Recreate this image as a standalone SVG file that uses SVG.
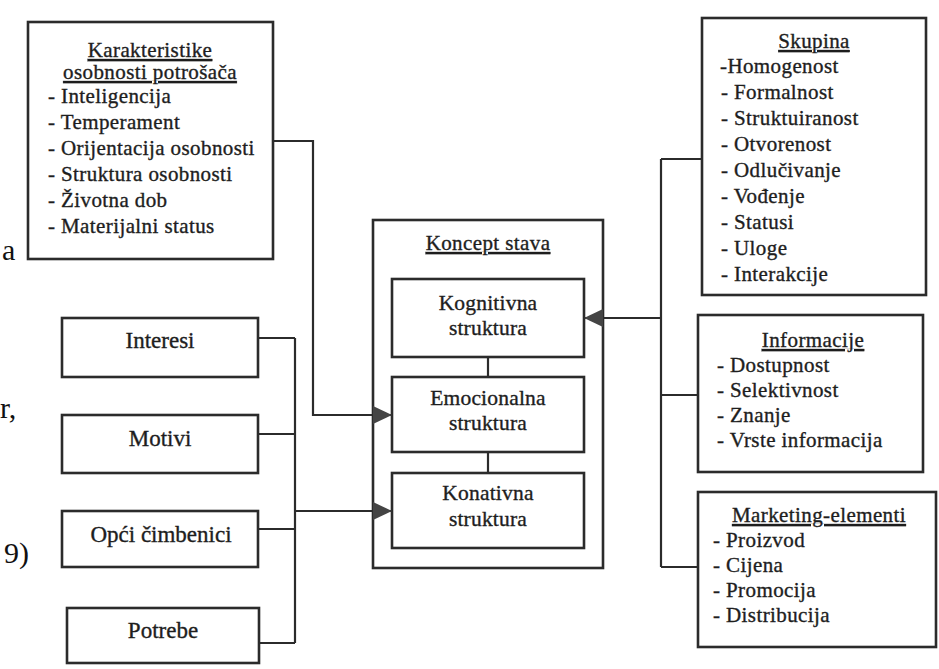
<svg xmlns="http://www.w3.org/2000/svg" width="939" height="669" viewBox="0 0 939 669">
<style>
.box{fill:#fff;stroke:#2b2b2b;stroke-width:2.6}
.ln{fill:none;stroke:#2b2b2b;stroke-width:2.2}
.t{font-family:"Liberation Serif","Times New Roman",serif;font-size:21px;letter-spacing:0.4px;fill:#1e1e1e;stroke:#1e1e1e;stroke-width:0.35}
.h{text-anchor:middle;text-decoration:underline}
.c{text-anchor:middle;font-size:21.5px;letter-spacing:0.2px}
.l{text-anchor:middle;font-size:23px;letter-spacing:0}
.m{font-family:"Liberation Serif","Times New Roman",serif;font-size:30px;fill:#111}
</style>
<defs>
<marker id="arr" viewBox="0 0 19 18" refX="19" refY="9" markerWidth="19" markerHeight="18" orient="auto" markerUnits="userSpaceOnUse">
<path d="M0,0 L19,9 L0,18 z" fill="#444"/>
</marker>
</defs>
<rect x="0" y="0" width="939" height="669" fill="#fff"/>

<g id="margin-text">
<text class="m" x="2" y="260">a</text>
<text class="m" x="0" y="418">r,</text>
<text class="m" x="4" y="563">9)</text>
</g>

<g id="karakteristike">
<rect class="box" x="28" y="22" width="245" height="237"/>
<text class="t h" x="150" y="57">Karakteristike</text>
<text class="t h" x="150" y="79">osobnosti potrošača</text>
<text class="t" x="48" y="103">- Inteligencija</text>
<text class="t" x="48" y="129">- Temperament</text>
<text class="t" x="48" y="155">- Orijentacija osobnosti</text>
<text class="t" x="48" y="181">- Struktura osobnosti</text>
<text class="t" x="48" y="207">- Životna dob</text>
<text class="t" x="48" y="233">- Materijalni status</text>
</g>

<g id="interesi">
<rect class="box" x="62" y="318" width="196" height="59"/>
<text class="t l" x="160" y="348">Interesi</text>
</g>
<g id="motivi">
<rect class="box" x="62" y="415" width="196" height="58"/>
<text class="t l" x="160" y="446">Motivi</text>
</g>
<g id="opci">
<rect class="box" x="62" y="511" width="196" height="56"/>
<text class="t l" x="161" y="542">Opći čimbenici</text>
</g>
<g id="potrebe">
<rect class="box" x="67" y="608" width="192" height="55"/>
<text class="t l" x="163" y="638">Potrebe</text>
</g>

<g id="koncept-stava">
<rect class="box" x="373" y="220" width="230" height="348"/>
<text class="t h" x="488" y="250">Koncept stava</text>
</g>
<g id="kognitivna">
<rect class="box" x="392" y="279" width="192" height="78"/>
<text class="t c" x="488" y="310">Kognitivna</text>
<text class="t c" x="488" y="335">struktura</text>
</g>
<g id="emocionalna">
<rect class="box" x="392" y="377" width="192" height="75"/>
<text class="t c" x="488" y="405">Emocionalna</text>
<text class="t c" x="488" y="430">struktura</text>
</g>
<g id="konativna">
<rect class="box" x="392" y="473" width="192" height="75"/>
<text class="t c" x="488" y="500">Konativna</text>
<text class="t c" x="488" y="526">struktura</text>
</g>

<g id="skupina">
<rect class="box" x="702" y="18" width="224" height="277"/>
<text class="t h" x="814" y="48">Skupina</text>
<text class="t" x="720" y="73">-Homogenost</text>
<text class="t" x="721" y="99">- Formalnost</text>
<text class="t" x="721" y="125">- Struktuiranost</text>
<text class="t" x="721" y="151">- Otvorenost</text>
<text class="t" x="721" y="177">- Odlučivanje</text>
<text class="t" x="721" y="203">- Vođenje</text>
<text class="t" x="721" y="229">- Statusi</text>
<text class="t" x="721" y="255">- Uloge</text>
<text class="t" x="721" y="281">- Interakcije</text>
</g>

<g id="informacije">
<rect class="box" x="698" y="315" width="225" height="157"/>
<text class="t h" x="813" y="347">Informacije</text>
<text class="t" x="717" y="372">- Dostupnost</text>
<text class="t" x="717" y="397">- Selektivnost</text>
<text class="t" x="717" y="422">- Znanje</text>
<text class="t" x="717" y="447">- Vrste informacija</text>
</g>

<g id="marketing-elementi">
<rect class="box" x="698" y="492" width="238" height="155"/>
<text class="t h" x="819" y="522">Marketing-elementi</text>
<text class="t" x="713" y="547">- Proizvod</text>
<text class="t" x="713" y="572">- Cijena</text>
<text class="t" x="713" y="597">- Promocija</text>
<text class="t" x="713" y="622">- Distribucija</text>
</g>

<g id="connectors">
<path class="ln" d="M273,141 H313 V415 H392" marker-end="url(#arr)"/>
<path class="ln" d="M295,338 V643"/>
<path class="ln" d="M258,338 H295"/>
<path class="ln" d="M258,434 H295"/>
<path class="ln" d="M258,529 H295"/>
<path class="ln" d="M259,643 H295"/>
<path class="ln" d="M295,511 H392" marker-end="url(#arr)"/>
<path class="ln" d="M661,159 V567"/>
<path class="ln" d="M661,159 H702"/>
<path class="ln" d="M661,395 H698"/>
<path class="ln" d="M661,567 H698"/>
<path class="ln" d="M661,318 H584" marker-end="url(#arr)"/>
<path class="ln" d="M488,357 V377"/>
<path class="ln" d="M488,452 V473"/>
</g>
</svg>
